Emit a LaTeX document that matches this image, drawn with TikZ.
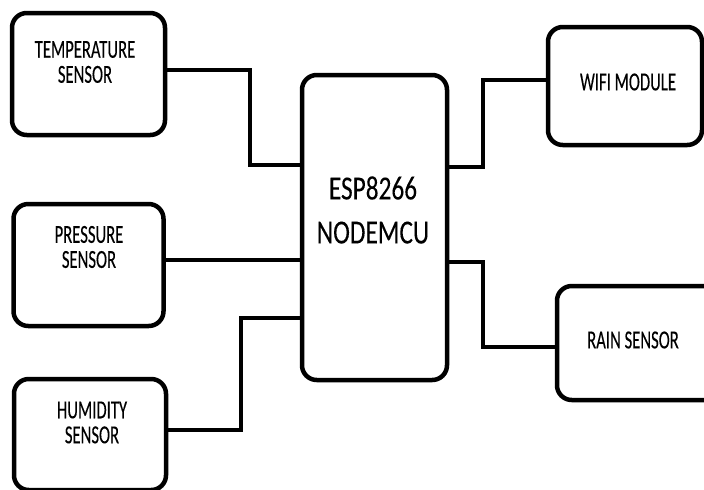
\documentclass[tikz,border=0pt]{standalone}
\usepackage{fontspec}
\usetikzlibrary{positioning}
\newfontfamily\lblfont[FakeStretch=0.64,FakeBold=0.2]{Carlito}
\newfontfamily\mcufont[FakeStretch=0.75,FakeBold=0.15]{Carlito}
\newcommand{\px}{0.025cm}
\tikzset{
  blk/.style 2 args={draw=black,line width=3.2pt,rounded corners=10.5pt,minimum width=#1*\px,minimum height=#2*\px,inner sep=0pt},
  lbl/.style={align=center,inner sep=0pt,font=\lblfont\fontsize{18.5}{17.8}\selectfont},
  wire/.style={line width=2.85pt},
}

\begin{document}
\begin{tikzpicture}[x=\px,y=-\px]
\useasboundingbox (0,0) rectangle (704,489);
% blocks
\node[blk={153}{122}] (temp)  at (88.5,74)   {};
\node[blk={150}{122}] (press) at (88.5,265)  {};
\node[blk={152}{111}] (humid) at (90,434.5)  {};
\node[blk={145}{305}] (mcu)   at (374.5,227.5) {};
\node[blk={154}{118}] (wifi)  at (625,86)    {};
\node[blk={162}{114}] (rain)  at (638,343)   {};
% texts
\node[lbl] (temp-t)  at (85,62)    {TEMPERATURE\\SENSOR};
\node[lbl] (press-t) at (89,247)   {PRESSURE\\SENSOR};
\node[lbl] (humid-t) at (92,422.5) {HUMIDITY\\SENSOR};
\node[lbl] (wifi-t)  at (628,82)   {WIFI MODULE};
\node[lbl] (rain-t)  at (633,340)  {RAIN SENSOR};
\node[lbl,font=\mcufont\fontsize{24}{31.3}\selectfont] (mcu-t) at (373,210) {ESP8266\\NODEMCU};
% connections
\draw[wire] (temp.east |- 0,70) -| (250,165) -- (mcu.west |- 0,165);
\draw[wire] (press.east |- 0,260) -- (mcu.west |- 0,260);
\draw[wire] (humid.east |- 0,430) -| (241,318) -- (mcu.west |- 0,318);
\draw[wire] (mcu.east |- 0,167) -| (483,80) -- (wifi.west |- 0,80);
\draw[wire] (mcu.east |- 0,262) -| (483,347) -- (rain.west |- 0,347);
\end{tikzpicture}
\end{document}
